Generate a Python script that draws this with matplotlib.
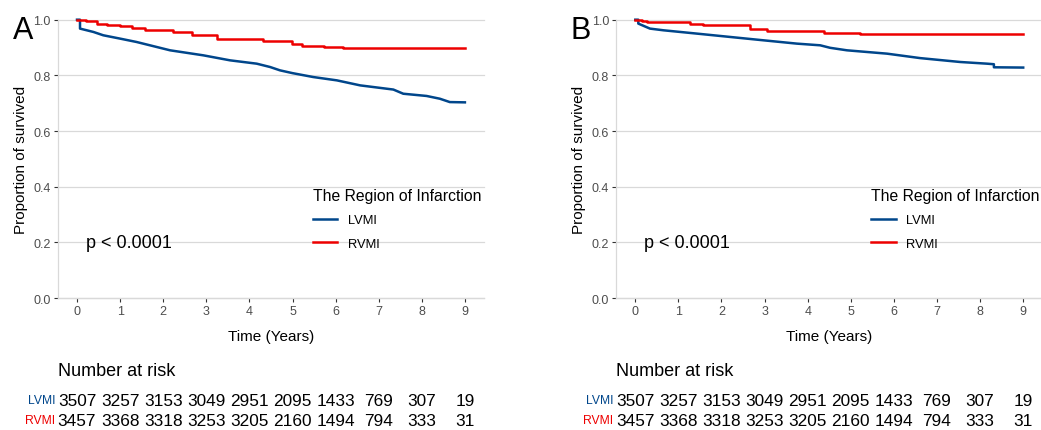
import matplotlib
matplotlib.use("Agg")
import matplotlib.pyplot as plt

plt.rcParams['font.family'] = ['Liberation Sans', 'DejaVu Sans']

# Kaplan-Meier curves (time in years, survival)
a_lvmi_t = [0, 0.07, 0.07, 0.38, 0.61, 1.0, 1.38, 2.16, 2.93, 3.55, 4.17, 4.48,
            4.71, 5.0, 5.48, 6.03, 6.57, 7.34, 7.57, 8.11, 8.42, 8.65, 9.0]
a_lvmi_s = [1.0, 1.0, 0.968, 0.956, 0.944, 0.932, 0.920, 0.890, 0.872, 0.854,
            0.842, 0.830, 0.818, 0.808, 0.794, 0.782, 0.764, 0.749, 0.734, 0.726,
            0.716, 0.704, 0.703]
a_rvmi_t = [0, 0.22, 0.46, 0.69, 1.0, 1.27, 1.58, 2.23, 2.66, 3.24, 4.32, 4.98,
            5.21, 5.72, 6.18, 9.0]
a_rvmi_s = [1.0, 0.994, 0.986, 0.982, 0.977, 0.971, 0.962, 0.956, 0.944, 0.932,
            0.923, 0.914, 0.905, 0.902, 0.899, 0.899]

b_lvmi_t = [0, 0.07, 0.07, 0.34, 0.65, 1.43, 2.2, 2.97, 3.75, 4.29, 4.52, 4.91,
            5.84, 6.61, 7.54, 8.16, 8.32, 8.32, 9.0]
b_lvmi_s = [1.0, 1.0, 0.986, 0.968, 0.962, 0.950, 0.938, 0.926, 0.914, 0.908,
            0.899, 0.890, 0.878, 0.862, 0.848, 0.842, 0.840, 0.829, 0.828]
b_rvmi_t = [0, 0.15, 0.26, 0.81, 1.27, 1.58, 2.66, 3.05, 4.37, 5.22, 9.0]
b_rvmi_s = [1.0, 0.995, 0.992, 0.990, 0.983, 0.980, 0.965, 0.959, 0.954, 0.948,
            0.948]

risk_times = [0, 1, 2, 3, 4, 5, 6, 7, 8, 9]
risk_lvmi = [3507, 3257, 3153, 3049, 2951, 2095, 1433, 769, 307, 19]
risk_rvmi = [3457, 3368, 3318, 3253, 3205, 2160, 1494, 794, 333, 31]

groups = ['LVMI', 'RVMI']
colors = ['#00468B', '#ED0000']
panels = ['A', 'B']
pvalue = 'p < 0.0001'

W, H = 1041, 431
fig = plt.figure(figsize=(W / 100, H / 100), dpi=100)

curves = [[(a_lvmi_t, a_lvmi_s), (a_rvmi_t, a_rvmi_s)],
          [(b_lvmi_t, b_lvmi_s), (b_rvmi_t, b_rvmi_s)]]
lefts = [57.6, 615.9]
grey = '#D9D9D9'

for i, panel in enumerate(panels):
    x0 = lefts[i]
    ax = fig.add_axes([x0 / W, (H - 299) / H, 426.7 / W, (299 - 20.7) / H])
    # LVMI has many events -> tiny steps, drawn as a line; RVMI as steps
    for (t, s), g, c, ds in zip(curves[i], groups, colors, ['default', 'steps-post']):
        ax.plot(t, s, drawstyle=ds, color=c, lw=1.8, label=g,
                clip_on=False, zorder=3)
    ax.set_xlim(-0.45, 9.45)
    ax.set_ylim(0, 1.0)
    ax.set_xticks(range(10))
    ax.set_yticks([0, 0.2, 0.4, 0.6, 0.8, 1.0])
    ax.set_yticklabels(['0.0', '0.2', '0.4', '0.6', '0.8', '1.0'])
    ax.grid(axis='y', color=grey, lw=0.9)
    ax.grid(axis='x', visible=False)
    for g in ax.get_ygridlines():
        g.set_clip_on(False)
    for side in ['top', 'right']:
        ax.spines[side].set_visible(False)
    for side in ['left', 'bottom']:
        ax.spines[side].set_color(grey)
        ax.spines[side].set_linewidth(0.9)
    ax.tick_params(colors='#333333', labelcolor='#4D4D4D', labelsize=9,
                   length=3, width=0.8, pad=2)
    ax.set_xlabel('Time (Years)', fontsize=11, labelpad=9)
    ax.set_ylabel('Proportion of survived', fontsize=11, labelpad=4)
    ax.text(0.21, 0.198, pvalue, fontsize=13, va='center', ha='left')
    leg = ax.legend(title='The Region of Infarction', frameon=False,
                    loc='upper left', bbox_to_anchor=(250 / 426.7, 0.415),
                    fontsize=9.3, title_fontsize=11.3, handlelength=1.9,
                    handletextpad=0.8, labelspacing=0.9, borderaxespad=0)
    leg._legend_box.align = 'left'
    fig.text((x0 - 45) / W, (H - 31) / H, panel, fontsize=22, va='center', ha='left')

    # number at risk table
    fig.text((x0 + 0.5) / W, (H - 372) / H, 'Number at risk', fontsize=13,
             va='center', ha='left')
    for row, (g, c, vals) in enumerate(zip(groups, colors, [risk_lvmi, risk_rvmi])):
        ypix = 401.5 + row * 20
        fig.text((x0 - 2.5) / W, (H - ypix) / H, g, color=c, fontsize=8.7,
                 va='center', ha='right')
        for t, v in zip(risk_times, vals):
            xpix = x0 + (t + 0.45) * 43.1
            fig.text(xpix / W, (H - ypix) / H, str(v), fontsize=12.4,
                     va='center', ha='center')

fig.savefig('out.png', dpi=100)
